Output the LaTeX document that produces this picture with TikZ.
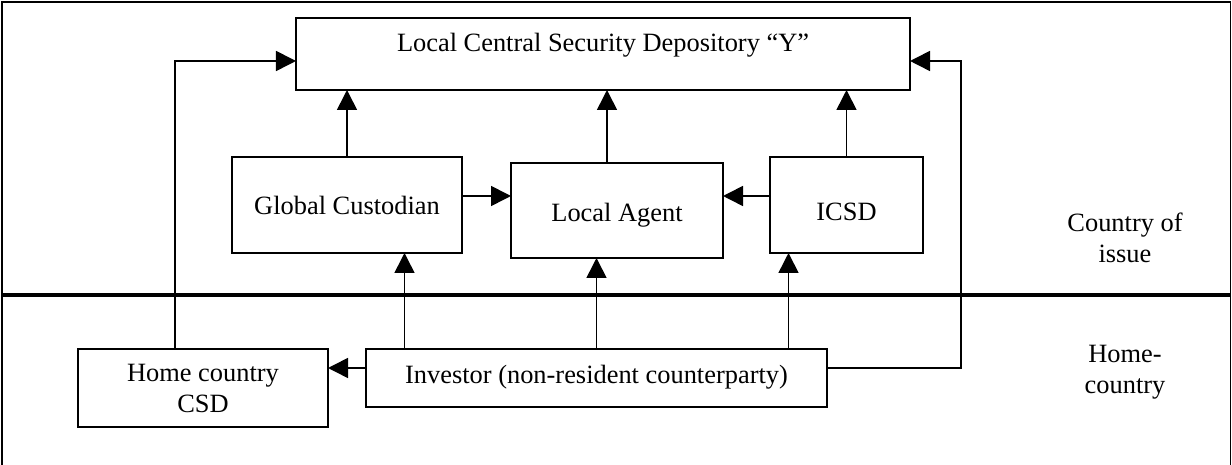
\documentclass[tikz,border=0pt]{standalone}
\usepackage{fontspec}
\setmainfont{Liberation Serif}
\usetikzlibrary{arrows.meta}

\begin{document}
\begin{tikzpicture}[x=0.5bp, y=-0.5bp,
        font=\fontsize{13.2bp}{15.5bp}\selectfont,
        box/.style={rectangle, draw, line width=0.8bp,
                    inner sep=0pt, outer sep=0pt,
                    anchor=center},
        link/.style={line width=0.8bp, -{Triangle[length=10bp,width=10bp]}},
        %divider between the two countries
        divider/.style={line width=2bp},
        ]
\useasboundingbox (0,0) rectangle (1232,465);
\draw[line width=0.8bp] (2,2) rectangle (1230.5,472);

\node[box, minimum width=307bp, minimum height=36bp,
      text height=8.5bp, text depth=10.7bp] (lcsd) at (603,54)
      {Local Central Security Depository “Y”};
\node[box, minimum width=115bp, minimum height=48bp,
      text height=12.5bp, text depth=2.7bp] (gc) at (347,205) {Global Custodian};
\node[box, minimum width=106bp, minimum height=47.5bp,
      text height=14bp, text depth=2.7bp] (la) at (617,210.5) {Local Agent};
\node[box, minimum width=76.5bp, minimum height=48bp,
      text height=18.5bp, text depth=2.7bp] (icsd) at (846.5,205) {ICSD};
\node[box, minimum width=125bp, minimum height=39bp, align=center] (hcsd) at (203,388)
      {Home country\\CSD};
\node[box, minimum width=230.5bp, minimum height=29bp,
      text height=8.5bp, text depth=2.7bp] (inv) at (596.5,378)
      {Investor (non-resident counterparty)};

\node[align=center] (issue) at (1125,237.5) {Country of\\issue};
\node[align=center] (home) at (1125,372) {Home-\\country};

\draw[divider] (2,295) -- (1230.5,295);

\draw[link] ([xshift=-14bp]hcsd.north) |- ([yshift=-3.5bp]lcsd.west);
\draw[link] ([yshift=5bp]inv.east) -- ++(134,0) |- ([yshift=-3.5bp]lcsd.east);
\draw[link] (gc.north) -- (gc.north |- lcsd.south);
\draw[link] ([xshift=-5bp]la.north) -- ([xshift=-5bp]la.north |- lcsd.south);
\draw[link] (icsd.north) -- (icsd.north |- lcsd.south);
\draw[link] ([yshift=4.5bp]gc.east) -- ([yshift=4.5bp]gc.east -| la.west);
\draw[link] ([yshift=4.5bp]icsd.west) -- ([yshift=4.5bp]icsd.west -| la.east);
\draw[link] ([xshift=-96bp]inv.north) -- ([xshift=-96bp]inv.north |- gc.south);
\draw[link] (inv.north) -- (inv.north |- la.south);
\draw[link] ([xshift=96bp]inv.north) -- ([xshift=96bp]inv.north |- icsd.south);
\draw[link] ([yshift=5bp]inv.west) -- ([yshift=5bp]inv.west -| hcsd.east);
\end{tikzpicture}
\end{document}
